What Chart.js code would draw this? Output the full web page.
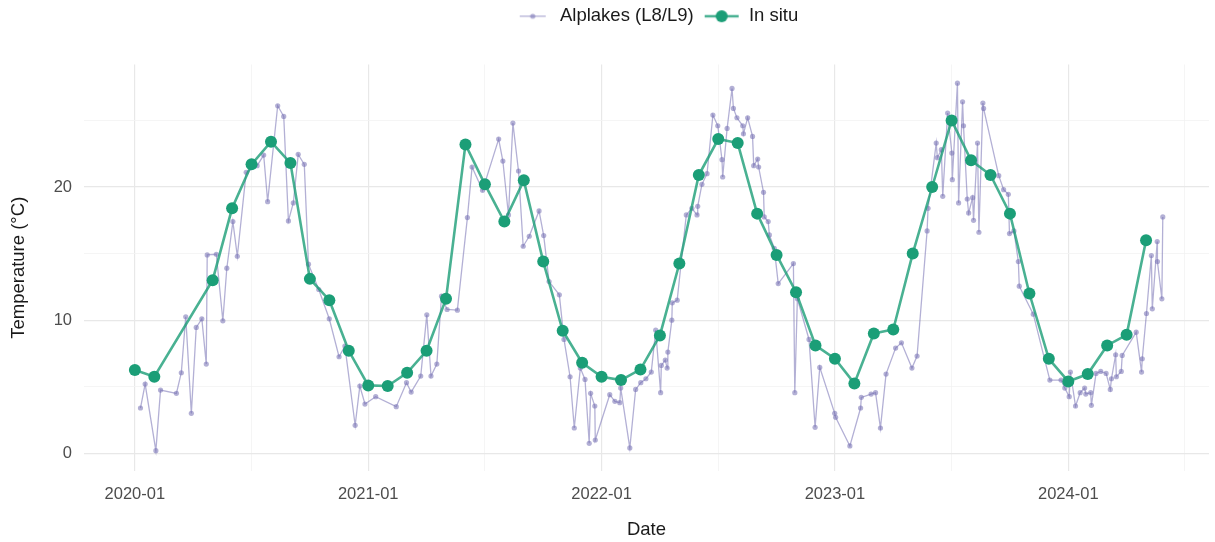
<!DOCTYPE html>
<html>
<head>
<meta charset="utf-8">
<script src="https://cdn.jsdelivr.net/npm/chart.js@4"></script>
<style>
  body { margin: 0; background: #fff; }
  #wrap { width: 1215px; height: 542px; }
</style>
</head>
<body>
<div id="wrap"><canvas id="tempChart"></canvas></div>
<script>
// In situ samples, roughly monthly (no sampling in March / April 2020)
const inSituDates = ['2020-01', '2020-02', '2020-05', '2020-06', '2020-07', '2020-08', '2020-09', '2020-10', '2020-11', '2020-12',
    '2021-01', '2021-02', '2021-03', '2021-04', '2021-05', '2021-06', '2021-07', '2021-08', '2021-09', '2021-10', '2021-11', '2021-12',
    '2022-01', '2022-02', '2022-03', '2022-04', '2022-05', '2022-06', '2022-07', '2022-08', '2022-09', '2022-10', '2022-11', '2022-12',
    '2023-01', '2023-02', '2023-03', '2023-04', '2023-05', '2023-06', '2023-07', '2023-08', '2023-09', '2023-10', '2023-11', '2023-12',
    '2024-01', '2024-02', '2024-03', '2024-04', '2024-05'];
const inSituTemp = [6.25, 5.75, 13.0, 18.4, 21.7, 23.4, 21.8, 13.1, 11.5, 7.7,
    5.1, 5.05, 6.05, 7.7, 11.6, 23.2, 20.2, 17.4, 20.5, 14.4, 9.2, 6.8,
    5.75, 5.5, 6.3, 8.85, 14.25, 20.9, 23.6, 23.3, 18.0, 14.9, 12.1, 8.1,
    7.1, 5.25, 9.0, 9.3, 15.0, 20.0, 25.0, 22.0, 20.9, 18.0, 12.0, 7.1,
    5.4, 5.95, 8.1, 8.9, 16.0];

// Satellite (Landsat 8/9) estimates, time as decimal year
const alplakesYear = [2020.024, 2020.044, 2020.090, 2020.110, 2020.178, 2020.199, 2020.218, 2020.242, 2020.263, 2020.287,
    2020.306, 2020.310, 2020.349, 2020.377, 2020.394, 2020.420, 2020.439, 2020.477, 2020.524, 2020.552,
    2020.569, 2020.612, 2020.638, 2020.658, 2020.679, 2020.700, 2020.726, 2020.744, 2020.788, 2020.833,
    2020.875, 2020.900, 2020.944, 2020.964, 2020.986, 2021.032, 2021.120, 2021.164, 2021.184, 2021.225,
    2021.251, 2021.269, 2021.294, 2021.314, 2021.338, 2021.382, 2021.425, 2021.445, 2021.490, 2021.559,
    2021.577, 2021.601, 2021.620, 2021.644, 2021.664, 2021.690, 2021.732, 2021.752, 2021.775, 2021.819,
    2021.839, 2021.865, 2021.883, 2021.909, 2021.929, 2021.947, 2021.953, 2021.971, 2021.973, 2022.035,
    2022.057, 2022.078, 2022.082, 2022.121, 2022.146, 2022.168, 2022.190, 2022.213, 2022.232, 2022.253,
    2022.256, 2022.273, 2022.281, 2022.284, 2022.301, 2022.303, 2022.324, 2022.363, 2022.387, 2022.409,
    2022.412, 2022.430, 2022.452, 2022.477, 2022.498, 2022.516, 2022.519, 2022.538, 2022.559, 2022.565,
    2022.580, 2022.605, 2022.608, 2022.626, 2022.647, 2022.652, 2022.669, 2022.673, 2022.694, 2022.697,
    2022.714, 2022.719, 2022.740, 2022.757, 2022.822, 2022.828, 2022.839, 2022.889, 2022.915, 2022.935,
    2022.999, 2023.003, 2023.064, 2023.110, 2023.113, 2023.155, 2023.174, 2023.195, 2023.219, 2023.260,
    2023.285, 2023.330, 2023.352, 2023.395, 2023.399, 2023.434, 2023.439, 2023.456, 2023.462, 2023.483,
    2023.501, 2023.503, 2023.525, 2023.530, 2023.547, 2023.551, 2023.567, 2023.573, 2023.590, 2023.594,
    2023.611, 2023.617, 2023.634, 2023.637, 2023.702, 2023.723, 2023.743, 2023.748, 2023.767, 2023.786,
    2023.790, 2023.850, 2023.921, 2023.969, 2023.985, 2024.004, 2024.009, 2024.031, 2024.051, 2024.070,
    2024.075, 2024.096, 2024.099, 2024.119, 2024.139, 2024.162, 2024.180, 2024.185, 2024.203, 2024.206,
    2024.227, 2024.231, 2024.291, 2024.314, 2024.317, 2024.335, 2024.356, 2024.360, 2024.381, 2024.382,
    2024.401, 2024.405];
const alplakesTemp = [3.4, 5.2, 0.2, 4.75, 4.5, 6.05, 10.25, 3.0, 9.45, 10.1,
    6.7, 14.9, 14.95, 9.95, 13.9, 17.4, 14.8, 21.1, 21.6, 22.4,
    18.9, 26.1, 25.3, 17.45, 18.8, 22.45, 21.7, 14.2, 12.3, 10.1,
    7.25, 8.05, 2.1, 5.05, 3.7, 4.25, 3.5, 5.3, 4.6, 5.8,
    10.4, 5.8, 6.7, 11.8, 10.8, 10.75, 17.7, 21.5, 19.75, 23.6,
    21.95, 17.9, 24.8, 21.2, 15.55, 16.3, 18.2, 16.35, 12.9, 11.9,
    8.55, 5.75, 1.9, 6.4, 5.55, 0.75, 4.5, 3.55, 1.0, 4.4,
    3.9, 3.8, 4.9, 0.4, 4.8, 5.3, 5.6, 6.1, 9.25, 4.55,
    6.6, 7.0, 6.4, 7.6, 10.0, 11.3, 11.5, 17.9, 18.4, 17.9,
    18.55, 20.2, 21.0, 25.4, 24.6, 22.05, 20.75, 24.4, 27.4, 25.9,
    25.2, 24.6, 24.0, 25.2, 23.8, 21.6, 22.1, 21.5, 19.6, 17.75,
    17.4, 16.4, 15.4, 12.75, 14.25, 4.55, 11.6, 8.55, 1.95, 6.45,
    3.0, 2.7, 0.55, 3.4, 4.2, 4.45, 4.55, 1.9, 5.95, 7.9,
    8.3, 6.4, 7.3, 16.7, 18.4, 23.3, 22.2, 22.8, 19.3, 25.55,
    22.55, 20.55, 27.8, 18.8, 26.4, 24.6, 19.1, 18.05, 19.2, 17.5,
    23.3, 16.6, 26.3, 25.9, 20.85, 19.8, 19.45, 16.5, 16.7, 14.4,
    12.55, 10.45, 5.5, 5.5, 4.9, 4.25, 6.1, 3.55, 4.55, 4.9,
    4.45, 4.55, 3.6, 6.0, 6.15, 6.0, 4.8, 5.6, 7.4, 5.75,
    6.15, 7.35, 9.1, 6.1, 7.1, 10.5, 14.85, 10.85, 15.9, 14.4,
    11.6, 17.75];

const xMajorTicks = [2020, 2021, 2022, 2023, 2024];
const xMinorTicks = [2020.5, 2021.5, 2022.5, 2023.5, 2024.5];
const yMajorTicks = [0, 10, 20];
const yMinorTicks = [5, 15, 25];

const purple = 'rgba(117, 112, 179, 0.55)';
const green = '#1b9e77';
const greenLine = 'rgba(27, 158, 119, 0.8)';

// "2020-05" -> 2020.333
function toYear(d) {
    const parts = d.split('-');
    return Number(parts[0]) + (Number(parts[1]) - 1) / 12;
}

// small canvas with a line and a dot, used as legend symbol
function legendSymbol(color, lineColor, lineWidth, radius, len) {
    const c = document.createElement('canvas');
    c.width = 36;
    c.height = 14;
    const ctx = c.getContext('2d');
    ctx.strokeStyle = lineColor;
    ctx.lineWidth = lineWidth;
    ctx.beginPath();
    ctx.moveTo(18 - len / 2, 7);
    ctx.lineTo(18 + len / 2, 7);
    ctx.stroke();
    ctx.fillStyle = color;
    ctx.beginPath();
    ctx.arc(18, 7, radius, 0, Math.PI * 2);
    ctx.fill();
    return c;
}

function isMajor(v, list) {
    return list.some(t => Math.abs(t - v) < 1e-6);
}

const inSituPoints = inSituDates.map((d, i) => ({ x: toYear(d), y: inSituTemp[i] }));
const alplakesPoints = alplakesYear.map((y, i) => ({ x: y, y: alplakesTemp[i] }));

// make room between legend and plot, and nudge the legend up and to the right
const legendMargin = {
    id: 'legendMargin',
    beforeInit(chart) {
        const fit = chart.legend.fit;
        chart.legend.fit = function() {
            fit.bind(chart.legend)();
            this.height += 26;
        };
    },
    afterLayout(chart) {
        chart.legend.left += 10;
        chart.legend.right += 10;
        chart.legend.top -= 3;
        chart.legend.bottom -= 3;
    }
};

const tickFont = { family: 'Liberation Sans', size: 16.5 };
const titleFont = { family: 'Liberation Sans', size: 18.5 };

new Chart(document.getElementById('tempChart'), {
    type: 'line',
    data: {
        datasets: [{
            label: 'Alplakes (L8/L9)',
            data: alplakesPoints,
            borderColor: purple,
            backgroundColor: purple,
            borderWidth: 1.3,
            pointRadius: 2.6,
            pointBorderWidth: 0,
            pointBackgroundColor: purple,
            pointStyle: 'circle',
            order: 1
        }, {
            label: 'In situ',
            data: inSituPoints,
            borderColor: greenLine,
            backgroundColor: green,
            borderWidth: 2.6,
            pointRadius: 6,
            pointBorderWidth: 0,
            pointBackgroundColor: green,
            order: 0
        }]
    },
    options: {
        responsive: true,
        maintainAspectRatio: false,
        animation: false,
        layout: { padding: { left: 0, right: 2, top: 0, bottom: 0 } },
        plugins: {
            tooltip: { enabled: false },
            legend: {
                position: 'top',
                fullSize: false,
                labels: {
                    usePointStyle: true,
                    pointStyleWidth: 36,
                    padding: 10,
                    color: '#1a1a1a',
                    font: { family: 'Liberation Sans', size: 18.5 },
                    generateLabels(chart) {
                        return [{
                            text: 'Alplakes (L8/L9)',
                            pointStyle: legendSymbol(purple, purple, 1.3, 2.6, 26),
                            fontColor: '#1a1a1a',
                            lineWidth: 0,
                            datasetIndex: 0
                        }, {
                            text: 'In situ',
                            pointStyle: legendSymbol(green, greenLine, 2.6, 6, 34),
                            fontColor: '#1a1a1a',
                            lineWidth: 0,
                            datasetIndex: 1
                        }];
                    }
                }
            }
        },
        scales: {
            x: {
                type: 'linear',
                min: 2019.782,
                max: 2024.603,
                afterBuildTicks(scale) {
                    scale.ticks = xMajorTicks.concat(xMinorTicks).sort().map(v => ({ value: v }));
                },
                afterFit(scale) {
                    scale.height = 71;
                },
                border: { display: false },
                grid: {
                    drawTicks: false,
                    color: ctx => isMajor(ctx.tick.value, xMajorTicks) ? '#e8e8e8' : '#f2f2f2',
                    lineWidth: ctx => isMajor(ctx.tick.value, xMajorTicks) ? 1.2 : 0.8
                },
                ticks: {
                    autoSkip: false,
                    maxRotation: 0,
                    padding: 14,
                    color: '#4d4d4d',
                    font: tickFont,
                    callback: v => isMajor(v, xMajorTicks) ? Math.round(v) + '-01' : ''
                },
                title: {
                    display: true,
                    text: 'Date',
                    color: '#1a1a1a',
                    font: titleFont,
                    padding: { top: 0, bottom: 1 }
                }
            },
            y: {
                type: 'linear',
                min: -1.33,
                max: 29.2,
                afterBuildTicks(scale) {
                    scale.ticks = yMajorTicks.concat(yMinorTicks).sort((a, b) => a - b).map(v => ({ value: v }));
                },
                afterFit(scale) {
                    scale.width = 84;
                },
                border: { display: false },
                grid: {
                    drawTicks: false,
                    color: ctx => isMajor(ctx.tick.value, yMajorTicks) ? '#e8e8e8' : '#f2f2f2',
                    lineWidth: ctx => isMajor(ctx.tick.value, yMajorTicks) ? 1.2 : 0.8
                },
                ticks: {
                    autoSkip: false,
                    padding: 12,
                    color: '#4d4d4d',
                    font: tickFont,
                    callback: v => isMajor(v, yMajorTicks) ? String(v) : ''
                },
                title: {
                    display: true,
                    text: 'Temperature (°C)',
                    color: '#1a1a1a',
                    font: titleFont,
                    padding: { top: 8, bottom: 0 }
                }
            }
        }
    },
    plugins: [legendMargin]
});
</script>
</body>
</html>
